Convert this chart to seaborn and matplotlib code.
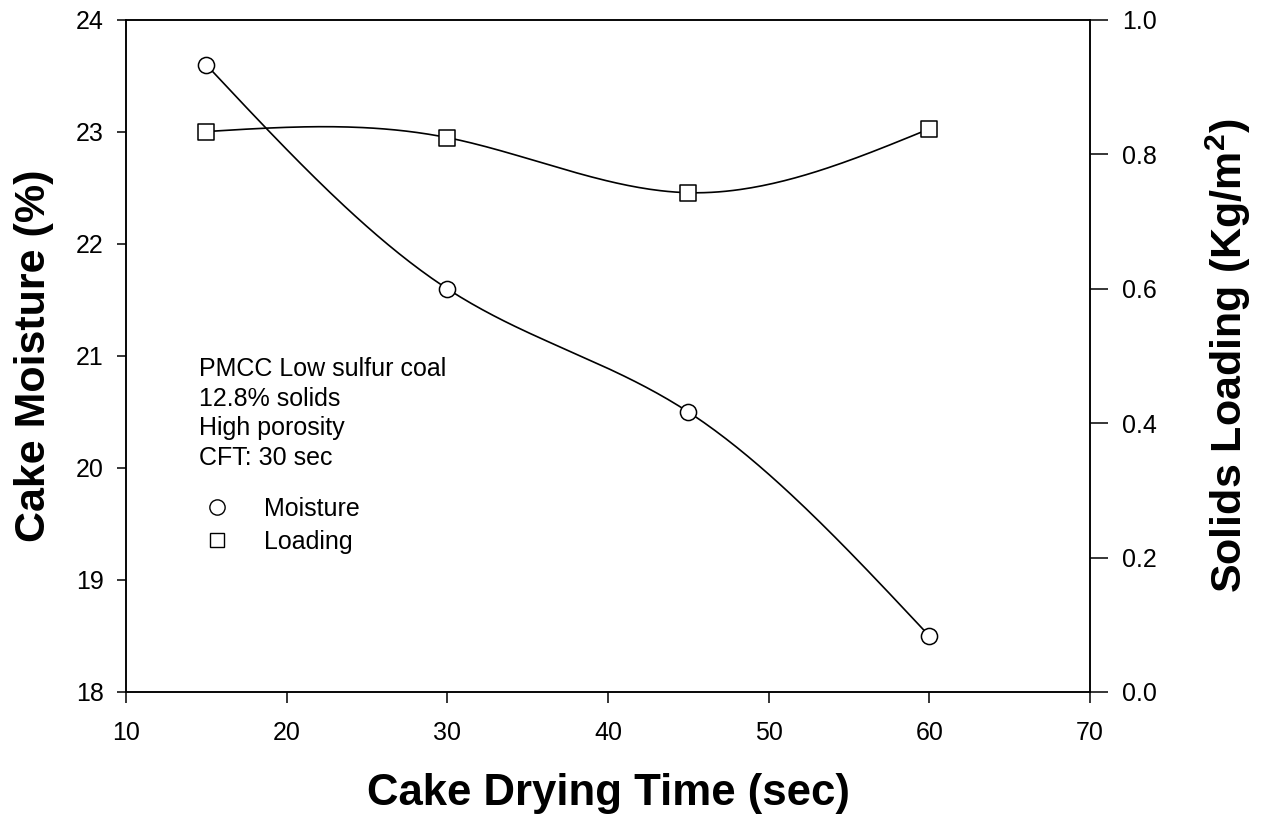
import numpy as np
import matplotlib
matplotlib.use("Agg")
import matplotlib.pyplot as plt
import seaborn as sns
import pandas as pd

time_sec = [15, 30, 45, 60]
moisture = [23.6, 21.6, 20.5, 18.5]
loading = [0.834, 0.825, 0.743, 0.838]
x_ticks = [10, 20, 30, 40, 50, 60, 70]
y_left_ticks = [18, 19, 20, 21, 22, 23, 24]
y_right_ticks = [0.0, 0.2, 0.4, 0.6, 0.8, 1.0]
note_lines = ["PMCC Low sulfur coal", "12.8% solids", "High porosity", "CFT: 30 sec"]
legend_labels = ["Moisture", "Loading"]


def natural_spline(x, y, n=200):
    x = np.asarray(x, float); y = np.asarray(y, float)
    k = len(x); h = np.diff(x)
    A = np.zeros((k, k)); b = np.zeros(k)
    A[0, 0] = A[-1, -1] = 1
    for i in range(1, k - 1):
        A[i, i - 1] = h[i - 1]; A[i, i] = 2 * (h[i - 1] + h[i]); A[i, i + 1] = h[i]
        b[i] = 3 * ((y[i + 1] - y[i]) / h[i] - (y[i] - y[i - 1]) / h[i - 1])
    c = np.linalg.solve(A, b)
    xs = np.linspace(x[0], x[-1], n); ys = np.empty_like(xs)
    for j, xv in enumerate(xs):
        i = min(np.searchsorted(x, xv, side="right") - 1, k - 2)
        dx = xv - x[i]
        bi = (y[i + 1] - y[i]) / h[i] - h[i] * (2 * c[i] + c[i + 1]) / 3
        di = (c[i + 1] - c[i]) / (3 * h[i])
        ys[j] = y[i] + bi * dx + c[i] * dx ** 2 + di * dx ** 3
    return xs, ys


sns.set_theme(style="ticks", rc={"text.color": "black", "axes.labelcolor": "black",
                                 "xtick.color": "black", "ytick.color": "black",
                                 "axes.edgecolor": "black"})
plt.rcParams["font.family"] = ["Liberation Sans", "DejaVu Sans"]
plt.rcParams["mathtext.fontset"] = "custom"
plt.rcParams["mathtext.bf"] = "Liberation Sans:bold"
plt.rcParams["mathtext.rm"] = "Liberation Sans"

fig = plt.figure(figsize=(12.61, 8.23), dpi=100)
ax = fig.add_axes([0.0999, 0.1592, 0.7645, 0.8165])
ax2 = ax.twinx()

df = pd.DataFrame({"time": time_sec, "moisture": moisture, "loading": loading})
mx, my = natural_spline(time_sec, moisture)
lx, ly = natural_spline(time_sec, loading)
sns.lineplot(x=mx, y=my, ax=ax, color="black", lw=1.2)
sns.lineplot(x=lx, y=ly, ax=ax2, color="black", lw=1.2)
sns.scatterplot(data=df, x="time", y="moisture", ax=ax, marker="o", s=135,
                facecolor="white", edgecolor="black", linewidth=1.1, zorder=5)
sns.scatterplot(data=df, x="time", y="loading", ax=ax2, marker="s", s=125,
                facecolor="white", edgecolor="black", linewidth=1.1, zorder=5)

ax.set_xlim(10, 70); ax.set_ylim(18, 24); ax2.set_ylim(0, 1.0)
ax.set_xticks(x_ticks); ax.set_yticks(y_left_ticks)
ax2.set_yticks(y_right_ticks)
ax2.set_yticklabels([f"{v:.1f}" for v in y_right_ticks])
for a in (ax, ax2):
    for s in a.spines.values():
        s.set_visible(True); s.set_linewidth(1.1); s.set_color("black")
ax.tick_params(axis="y", direction="out", length=6.5, width=1.1, labelsize=18, pad=9.5, right=False)
ax.tick_params(axis="x", direction="out", length=8, width=1.1, labelsize=18, pad=13, top=False)
ax2.tick_params(axis="y", direction="out", length=13, width=1.1, labelsize=18, pad=10)

ax.set_xlabel("Cake Drying Time (sec)", fontsize=31.5, fontweight="bold", labelpad=20)
ax.set_ylabel("Cake Moisture (%)", fontsize=31, fontweight="bold", labelpad=16)
ax2.set_ylabel("Solids Loading (Kg/m$\\mathbf{^2}$)", fontsize=31, fontweight="bold", labelpad=34)

for i, line in enumerate(note_lines):
    ax.text(0.0757, 0.4702 - i * 0.0439, line, transform=ax.transAxes, fontsize=18,
            va="baseline", ha="left")
leg_y = [0.2753, 0.2262]
ax.plot([0.0944], [leg_y[0]], transform=ax.transAxes, marker="o", ms=11, mfc="white", mec="black", mew=1.0, ls="none")
ax.plot([0.0944], [leg_y[1]], transform=ax.transAxes, marker="s", ms=10, mfc="white", mec="black", mew=1.0, ls="none")
for yy, lab in zip(leg_y, legend_labels):
    ax.text(0.1432, yy, lab, transform=ax.transAxes, fontsize=18, va="center_baseline")

fig.savefig("out.png", dpi=100)
